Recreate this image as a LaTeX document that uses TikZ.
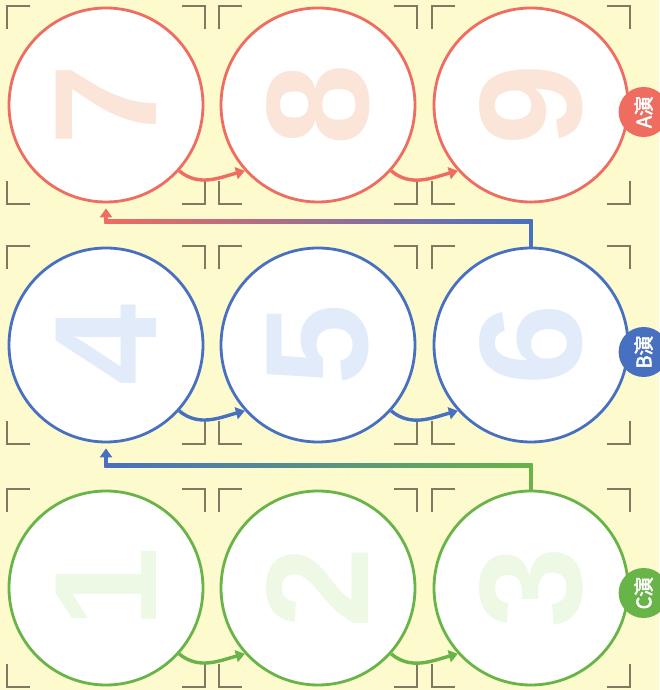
\documentclass[tikz,border=0pt]{standalone}
\usepackage{fontspec}
\usepackage{graphicx}
\setmainfont{Liberation Sans}
\newfontfamily\cjk[FakeBold=2.5]{Noto Sans CJK SC}
\usetikzlibrary{
  arrows.meta,
  calc,
  positioning
}
\definecolor{paper}{RGB}{253,250,205}
\definecolor{rowA}{RGB}{238,108,96}
\definecolor{rowB}{RGB}{72,112,192}
\definecolor{rowC}{RGB}{104,180,72}
\definecolor{digA}{RGB}{251,229,216}
\definecolor{digB}{RGB}{226,235,250}
\definecolor{digC}{RGB}{237,249,228}
\definecolor{cropmark}{RGB}{128,120,96}
\tikzset{
  ring/.style={
    circle,
    draw=#1,
    fill=white,
    line width=2.8pt,
    minimum size=194pt,
    inner sep=0pt
  },
  digit/.style={
    text=#1,
    rotate=90,
    inner sep=0pt,
    font=\fontsize{146}{146}\selectfont\bfseries
  },
  badge/.style={
    circle,
    fill=#1,
    minimum size=50pt,
    inner sep=0pt,
    text=white,
    font=\cjk\fontsize{20}{20}\selectfont
  },
  hop/.style={
    draw=#1,
    line width=3.4pt,
    -{Triangle[length=9pt,width=12pt]}
  },
  crop/.style={
    draw=cropmark,
    line width=1.2pt
  }
}

\begin{document}
\begin{tikzpicture}[x=1pt,y=1pt]
\fill[paper] (0,0) rectangle (659,690);
\useasboundingbox (0,0) rectangle (659,690);

% rings and digits
\foreach \num/\col/\cx/\cy in {
  7/A/106/585, 8/A/318/585, 9/A/531/585,
  4/B/106/345, 5/B/318/345, 6/B/531/345,
  1/C/106/102, 2/C/318/102, 3/C/531/102}{
  \node[ring=row\col] (c\num) at (\cx,\cy) {};
  \node[digit=dig\col] (d\num) at (c\num) {\num};
  \foreach \sx in {-1,1}
    \foreach \sy in {-1,1}
      \draw[crop] ($(c\num)+({\sx*99},{\sy*76})$)
        -- ($(c\num)+({\sx*99},{\sy*99})$)
        -- ($(c\num)+({\sx*76},{\sy*99})$);
}

% hops inside a row
\foreach \from/\to/\col in {7/8/A, 8/9/A, 4/5/B, 5/6/B, 1/2/C, 2/3/C}
  \draw[hop=row\col] (c\from.-42) to[out=-40, in=195] (c\to.-138);

% row jumps
\coordinate (kB) at ($(c6.north)+(0,25)$);
\coordinate (kA) at (c7 |- kB);
\draw[rowB, line width=3.4pt] (c6.north) -- (kB);
\shade[left color=rowA, right color=rowB]
  ($(kA)+(-1.7,-1.7)$) rectangle ($(kB)+(1.7,1.7)$);
\draw[hop=rowA, shorten >=5pt] ($(kA)+(0,-1.7)$) -- (c7.south);

\coordinate (kC) at ($(c3.north)+(0,24)$);
\coordinate (kD) at (c4 |- kC);
\draw[rowC, line width=3.4pt] (c3.north) -- (kC);
\shade[left color=rowB, right color=rowC]
  ($(kD)+(-1.7,-1.7)$) rectangle ($(kC)+(1.7,1.7)$);
\draw[hop=rowB, shorten >=5pt] ($(kD)+(0,-1.7)$) -- (c4.south);

% row badges
\node[badge=rowA, right=-11pt of c9, yshift=-7pt] (bA) {\rotatebox{90}{A演}};
\node[badge=rowB, right=-11pt of c6, yshift=-7pt] (bB) {\rotatebox{90}{B演}};
\node[badge=rowC, right=-11pt of c3, yshift=-5pt] (bC) {\rotatebox{90}{C演}};
\end{tikzpicture}
\end{document}
